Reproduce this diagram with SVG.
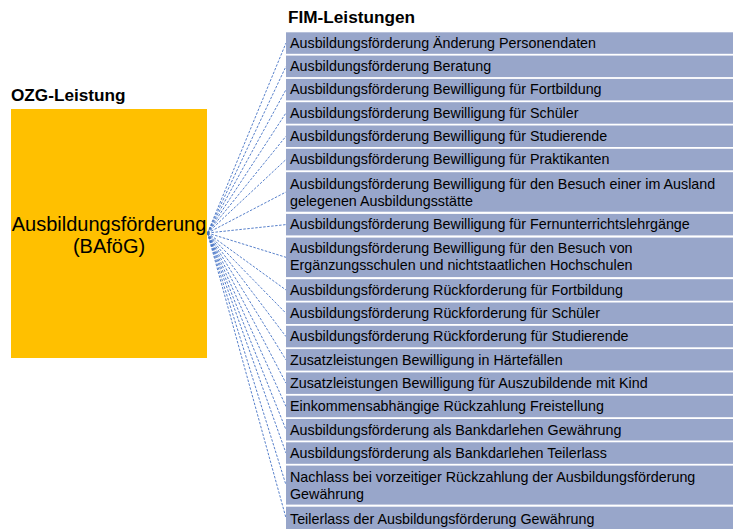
<svg xmlns="http://www.w3.org/2000/svg" width="733" height="529" viewBox="0 0 733 529">
<style>
.hd{font-family:"Liberation Sans",Arial,sans-serif;font-weight:bold;font-size:17.2px;fill:#000}
.row{fill:#98A6CA}
.t{font-family:"Liberation Sans",Arial,sans-serif;font-size:14.3px;fill:#000}
.big{font-family:"Liberation Sans",Arial,sans-serif;font-size:20px;fill:#000}
.c{stroke:#4472C4;stroke-width:0.9;stroke-dasharray:2.5 1.5;fill:none}
</style>
<rect width="733" height="529" fill="#fff"/>
<text class="hd" x="288" y="23">FIM-Leistungen</text>
<text class="hd" x="11" y="101">OZG-Leistung</text>
<g id="connectors">
<line class="c" x1="207.5" y1="233" x2="286" y2="43"/>
<line class="c" x1="207.5" y1="233" x2="286" y2="66.3"/>
<line class="c" x1="207.5" y1="233" x2="286" y2="89.6"/>
<line class="c" x1="207.5" y1="233" x2="286" y2="112.9"/>
<line class="c" x1="207.5" y1="233" x2="286" y2="136.2"/>
<line class="c" x1="207.5" y1="233" x2="286" y2="159.5"/>
<line class="c" x1="207.5" y1="233" x2="286" y2="192"/>
<line class="c" x1="207.5" y1="233" x2="286" y2="224.6"/>
<line class="c" x1="207.5" y1="233" x2="286" y2="257.3"/>
<line class="c" x1="207.5" y1="233" x2="286" y2="290"/>
<line class="c" x1="207.5" y1="233" x2="286" y2="313.3"/>
<line class="c" x1="207.5" y1="233" x2="286" y2="336.6"/>
<line class="c" x1="207.5" y1="233" x2="286" y2="359.9"/>
<line class="c" x1="207.5" y1="233" x2="286" y2="383.2"/>
<line class="c" x1="207.5" y1="233" x2="286" y2="406.5"/>
<line class="c" x1="207.5" y1="233" x2="286" y2="429.8"/>
<line class="c" x1="207.5" y1="233" x2="286" y2="453.1"/>
<line class="c" x1="207.5" y1="233" x2="286" y2="485"/>
<line class="c" x1="207.5" y1="233" x2="286" y2="518"/>
</g>
<g id="ozg">
<rect x="11" y="109" width="196" height="249" fill="#FFC000"/>
<text class="big" x="109" y="231" text-anchor="middle">Ausbildungsförderung</text>
<text class="big" x="109" y="253" text-anchor="middle">(BAföG)</text>
</g>
<g id="r1"><rect class="row" x="286" y="32.3" width="447" height="21.5"/><text class="t" x="290" y="47.8">Ausbildungsförderung Änderung Personendaten</text></g>
<g id="r2"><rect class="row" x="286" y="55.6" width="447" height="21.5"/><text class="t" x="290" y="71.1">Ausbildungsförderung Beratung</text></g>
<g id="r3"><rect class="row" x="286" y="78.9" width="447" height="21.5"/><text class="t" x="290" y="94.4">Ausbildungsförderung Bewilligung für Fortbildung</text></g>
<g id="r4"><rect class="row" x="286" y="102.2" width="447" height="21.5"/><text class="t" x="290" y="117.7">Ausbildungsförderung Bewilligung für Schüler</text></g>
<g id="r5"><rect class="row" x="286" y="125.5" width="447" height="21.5"/><text class="t" x="290" y="141">Ausbildungsförderung Bewilligung für Studierende</text></g>
<g id="r6"><rect class="row" x="286" y="148.8" width="447" height="21.5"/><text class="t" x="290" y="164.3">Ausbildungsförderung Bewilligung für Praktikanten</text></g>
<g id="r7"><rect class="row" x="286" y="172.2" width="447" height="39.5"/><text class="t" x="290" y="189">Ausbildungsförderung Bewilligung für den Besuch einer im Ausland</text><text class="t" x="290" y="206">gelegenen Ausbildungsstätte</text></g>
<g id="r8"><rect class="row" x="286" y="213.9" width="447" height="21.5"/><text class="t" x="290" y="229.4">Ausbildungsförderung Bewilligung für Fernunterrichtslehrgänge</text></g>
<g id="r9"><rect class="row" x="286" y="237.6" width="447" height="39.5"/><text class="t" x="290" y="252.5">Ausbildungsförderung Bewilligung für den Besuch von</text><text class="t" x="290" y="270">Ergänzungsschulen und nichtstaatlichen Hochschulen</text></g>
<g id="r10"><rect class="row" x="286" y="279.2" width="447" height="21.5"/><text class="t" x="290" y="294.7">Ausbildungsförderung Rückforderung für Fortbildung</text></g>
<g id="r11"><rect class="row" x="286" y="302.5" width="447" height="21.5"/><text class="t" x="290" y="318">Ausbildungsförderung Rückforderung für Schüler</text></g>
<g id="r12"><rect class="row" x="286" y="325.8" width="447" height="21.5"/><text class="t" x="290" y="341.3">Ausbildungsförderung Rückforderung für Studierende</text></g>
<g id="r13"><rect class="row" x="286" y="349.1" width="447" height="21.5"/><text class="t" x="290" y="364.6">Zusatzleistungen Bewilligung in Härtefällen</text></g>
<g id="r14"><rect class="row" x="286" y="372.4" width="447" height="21.5"/><text class="t" x="290" y="387.9">Zusatzleistungen Bewilligung für Auszubildende mit Kind</text></g>
<g id="r15"><rect class="row" x="286" y="395.7" width="447" height="21.5"/><text class="t" x="290" y="411.2">Einkommensabhängige Rückzahlung Freistellung</text></g>
<g id="r16"><rect class="row" x="286" y="419" width="447" height="21.5"/><text class="t" x="290" y="434.5">Ausbildungsförderung als Bankdarlehen Gewährung</text></g>
<g id="r17"><rect class="row" x="286" y="442.3" width="447" height="21.5"/><text class="t" x="290" y="457.8">Ausbildungsförderung als Bankdarlehen Teilerlass</text></g>
<g id="r18"><rect class="row" x="286" y="465.6" width="447" height="39"/><text class="t" x="290" y="481.5">Nachlass bei vorzeitiger Rückzahlung der Ausbildungsförderung</text><text class="t" x="290" y="498.5">Gewährung</text></g>
<g id="r19"><rect class="row" x="286" y="506.7" width="447" height="22.3"/><text class="t" x="290" y="524">Teilerlass der Ausbildungsförderung Gewährung</text></g>
</svg>
